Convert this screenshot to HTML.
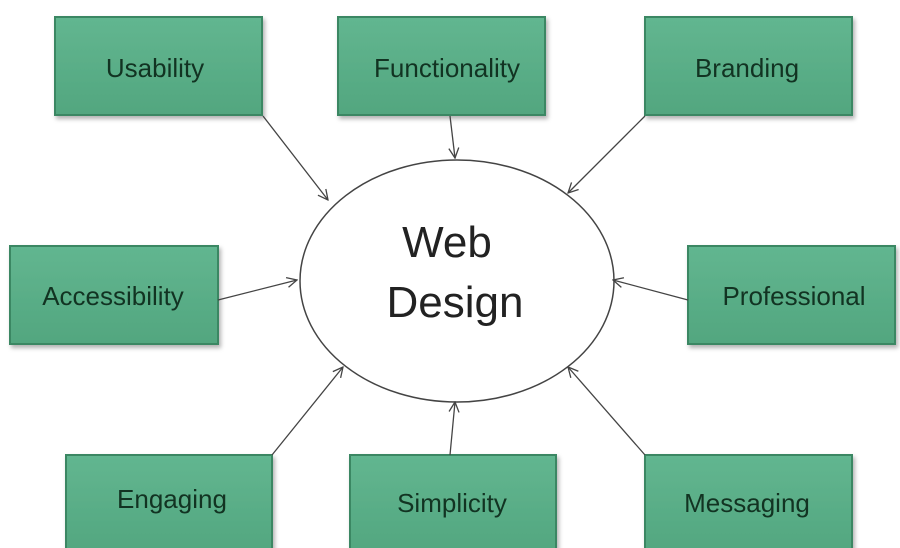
<!DOCTYPE html>
<html><head><meta charset="utf-8"><style>
body{margin:0;background:#fff;}
svg{display:block;}
text{font-family:"Liberation Sans",sans-serif;}
</style></head><body>
<svg width="900" height="548" viewBox="0 0 900 548">
<defs>
<linearGradient id="g" x1="0" y1="0" x2="0" y2="1">
<stop offset="0" stop-color="#62b690"/><stop offset="1" stop-color="#52a67f"/></linearGradient>
<marker id="a" markerWidth="12" markerHeight="12" refX="11" refY="6" orient="auto" markerUnits="userSpaceOnUse">
<path d="M1,1 L11,6 L1,11" fill="none" stroke="#444" stroke-width="1.3"/></marker>
<filter id="s" x="-10%" y="-10%" width="125%" height="130%"><feDropShadow dx="2" dy="3" stdDeviation="2" flood-color="#000" flood-opacity="0.3"/></filter>
</defs>
<g stroke="#3b8763" stroke-width="2" fill="url(#g)" filter="url(#s)">
<rect x="55" y="17" width="207" height="98"/>
<rect x="338" y="17" width="207" height="98"/>
<rect x="645" y="17" width="207" height="98"/>
<rect x="10" y="246" width="208" height="98"/>
<rect x="688" y="246" width="207" height="98"/>
<rect x="66" y="455" width="206" height="100"/>
<rect x="350" y="455" width="206" height="100"/>
<rect x="645" y="455" width="207" height="100"/>
</g>
<ellipse cx="457" cy="281" rx="157" ry="121" fill="#fff" stroke="#444" stroke-width="1.5"/>
<g stroke="#444" stroke-width="1.3" marker-end="url(#a)">
<line x1="263" y1="116" x2="328" y2="200"/>
<line x1="450" y1="116" x2="455" y2="158"/>
<line x1="645" y1="116" x2="568" y2="193"/>
<line x1="218" y1="300" x2="297" y2="280"/>
<line x1="688" y1="300" x2="613" y2="280"/>
<line x1="272" y1="455" x2="343" y2="367"/>
<line x1="450" y1="455" x2="455" y2="402"/>
<line x1="645" y1="455" x2="568" y2="367"/>
</g>
<g fill="#123322" font-size="26" text-anchor="middle">
<text x="155" y="77">Usability</text>
<text x="447" y="77">Functionality</text>
<text x="747" y="77">Branding</text>
<text x="113" y="305">Accessibility</text>
<text x="794" y="305">Professional</text>
<text x="172" y="508">Engaging</text>
<text x="452" y="512">Simplicity</text>
<text x="747" y="512">Messaging</text>
</g>
<g fill="#222" font-size="44" text-anchor="middle">
<text x="447" y="257">Web</text>
<text x="455" y="317">Design</text>
</g>
</svg>
</body></html>
